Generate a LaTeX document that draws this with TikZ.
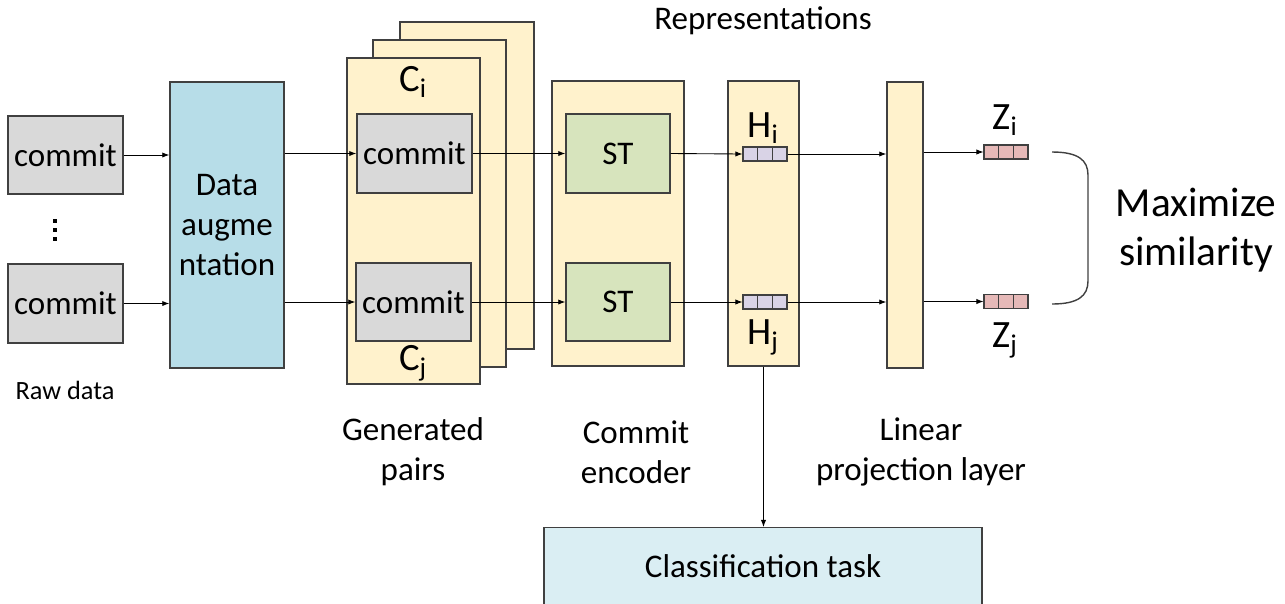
\documentclass[tikz,border=0pt]{standalone}
\usepackage{fontspec}
\setmainfont{Carlito}
\usetikzlibrary{arrows.meta,calc}

\definecolor{linec}{HTML}{404040}
\definecolor{grayfill}{HTML}{D9D9D9}
\definecolor{augfill}{HTML}{B7DDE8}
\definecolor{pairfill}{HTML}{FFF2CC}
\definecolor{stfill}{HTML}{D7E4BD}
\definecolor{hfill}{HTML}{D9D3E6}
\definecolor{zfill}{HTML}{E6B9B8}
\definecolor{clsfill}{HTML}{DAEEF3}

\newlength{\px}
\setlength{\px}{0.02cm}

\tikzset{
	box/.style={draw=linec, line width=0.8pt, inner sep=0pt, align=center},
	lbl/.style={font=\fontsize{18.8}{22.9}\selectfont, align=center, inner sep=0pt},
	sublbl/.style={font=\fontsize{22}{26}\selectfont, inner sep=0pt},
	arr/.style={-{Latex[length=4pt,width=3pt]}, line width=0.5pt},
	vecbox/.style={draw=linec, line width=0.6pt, fill=#1, inner sep=0pt,
		minimum width=44\px, minimum height=14\px,
		path picture={
			\foreach \k in {1,2}
				\draw[linec, line width=0.6pt]
				($(path picture bounding box.south west)!\k/3!(path picture bounding box.south east)$) --
				($(path picture bounding box.north west)!\k/3!(path picture bounding box.north east)$);
		}},
}

\begin{document}
\begin{tikzpicture}[x=0.02cm, y=-0.02cm]
	
	\path[use as bounding box] (0,0) rectangle (1285,603);
	\clip (0,0) rectangle (1285,603);
	
	% raw commits
	\node[box, lbl, fill=grayfill, minimum width=115\px, minimum height=78\px] (c1) at (65.5,155) {commit};
	\node[box, lbl, fill=grayfill, minimum width=115\px, minimum height=79\px] (c2) at (65.5,303.5) {commit};
	\foreach \y in {219,228,237}
		\fill (53,\y) rectangle (57,\y+4);
	\node[font=\fontsize{15}{18}\selectfont] (raw) at (65,390) {Raw data};
	
	% augmentation
	\node[box, lbl, fill=augfill, minimum width=114\px, minimum height=286\px] (aug) at (227,225) {Data\\augme\\ntation};
	
	% stack of generated pairs
	\node[box, fill=pairfill, minimum width=134\px, minimum height=327\px] (p3) at (467,185.5) {};
	\node[box, fill=pairfill, minimum width=133\px, minimum height=327\px] (p2) at (439.5,203.5) {};
	\node[box, fill=pairfill, minimum width=133\px, minimum height=326\px] (p1) at (413.5,221) {};
	\node[box, lbl, fill=grayfill, minimum width=115\px, minimum height=79\px] (ci) at (414.5,153.5) {commit};
	\node[box, lbl, fill=grayfill, minimum width=115\px, minimum height=78\px] (cj) at (413.5,302) {commit};
	\node[sublbl] (ci-l) at (413,82) {C\textsubscript{i}};
	\node[sublbl] (cj-l) at (413,363) {C\textsubscript{j}};
	\node[lbl] (gen) at (413,452) {Generated\\pairs};
	
	% encoder
	\node[box, fill=pairfill, minimum width=132\px, minimum height=285\px] (enc) at (618,223.5) {};
	\node[box, lbl, fill=stfill, minimum width=104\px, minimum height=79\px] (sti) at (618,153.5) {ST};
	\node[box, lbl, fill=stfill, minimum width=104\px, minimum height=78\px] (stj) at (618,302) {ST};
	\node[lbl] (enc-l) at (636,452) {Commit\\encoder};
	
	% representations
	\node[box, fill=pairfill, minimum width=71\px, minimum height=285\px] (rep) at (763.5,223.5) {};
	\node[vecbox=hfill] (hi) at (765,154) {};
	\node[vecbox=hfill] (hj) at (765,302) {};
	\node[sublbl] (hi-l) at (763,128) {H\textsubscript{i}};
	\node[sublbl] (hj-l) at (763,337) {H\textsubscript{j}};
	\node[lbl] (rep-l) at (763,21) {Representations};
	
	% projection head
	\node[box, fill=pairfill, minimum width=36\px, minimum height=286\px] (proj) at (905,225) {};
	\node[lbl] (proj-l) at (921,452) {Linear\\projection layer};
	\node[vecbox=zfill] (zi) at (1006,152) {};
	\node[vecbox=zfill] (zj) at (1006,301.5) {};
	\node[sublbl] (zi-l) at (1005,120) {Z\textsubscript{i}};
	\node[sublbl] (zj-l) at (1005,340) {Z\textsubscript{j}};
	\coordinate (bt) at (1052,152);
	\coordinate (bb) at (1052,304);
	\node[align=center, inner sep=0pt, font=\fontsize{23.5}{28}\selectfont] (sim) at (1196,230) {Maximize\\similarity};
	
	% downstream task
	\node[box, lbl, fill=clsfill, minimum width=438\px, minimum height=120\px, anchor=north] (cls) at (763,527) {};
	\node[lbl] (cls-l) at (763,566) {Classification task};
	
	% connectors
	\draw[arr] (c1.east) -- (c1.east -| aug.west);
	\draw[arr] (c2.east) -- (c2.east -| aug.west);
	\draw[arr] (aug.east |- ci.west) -- (ci.west);
	\draw[arr] (aug.east |- cj.west) -- (cj.west);
	\draw[arr] (ci.east) -- (sti.west);
	\draw[arr] (cj.east) -- (stj.west);
	\draw[arr] (sti.east) -- (hi.west);
	\draw[arr] (stj.east) -- (hj.west);
	\draw[arr] (hi.east) -- (hi.east -| proj.west);
	\draw[arr] (hj.east) -- (hj.east -| proj.west);
	\draw[arr] (proj.east |- zi.west) -- (zi.west);
	\draw[arr] (proj.east |- zj.west) -- (zj.west);
	\draw[arr] (rep.south) -- (rep.south |- cls.north);
	\draw[linec, line width=0.8pt] (bt) .. controls (1078,152) and (1088,160) .. (1088,175)
		-- (1088,281) .. controls (1088,296) and (1078,304) .. (bb);
	
\end{tikzpicture}
\end{document}
